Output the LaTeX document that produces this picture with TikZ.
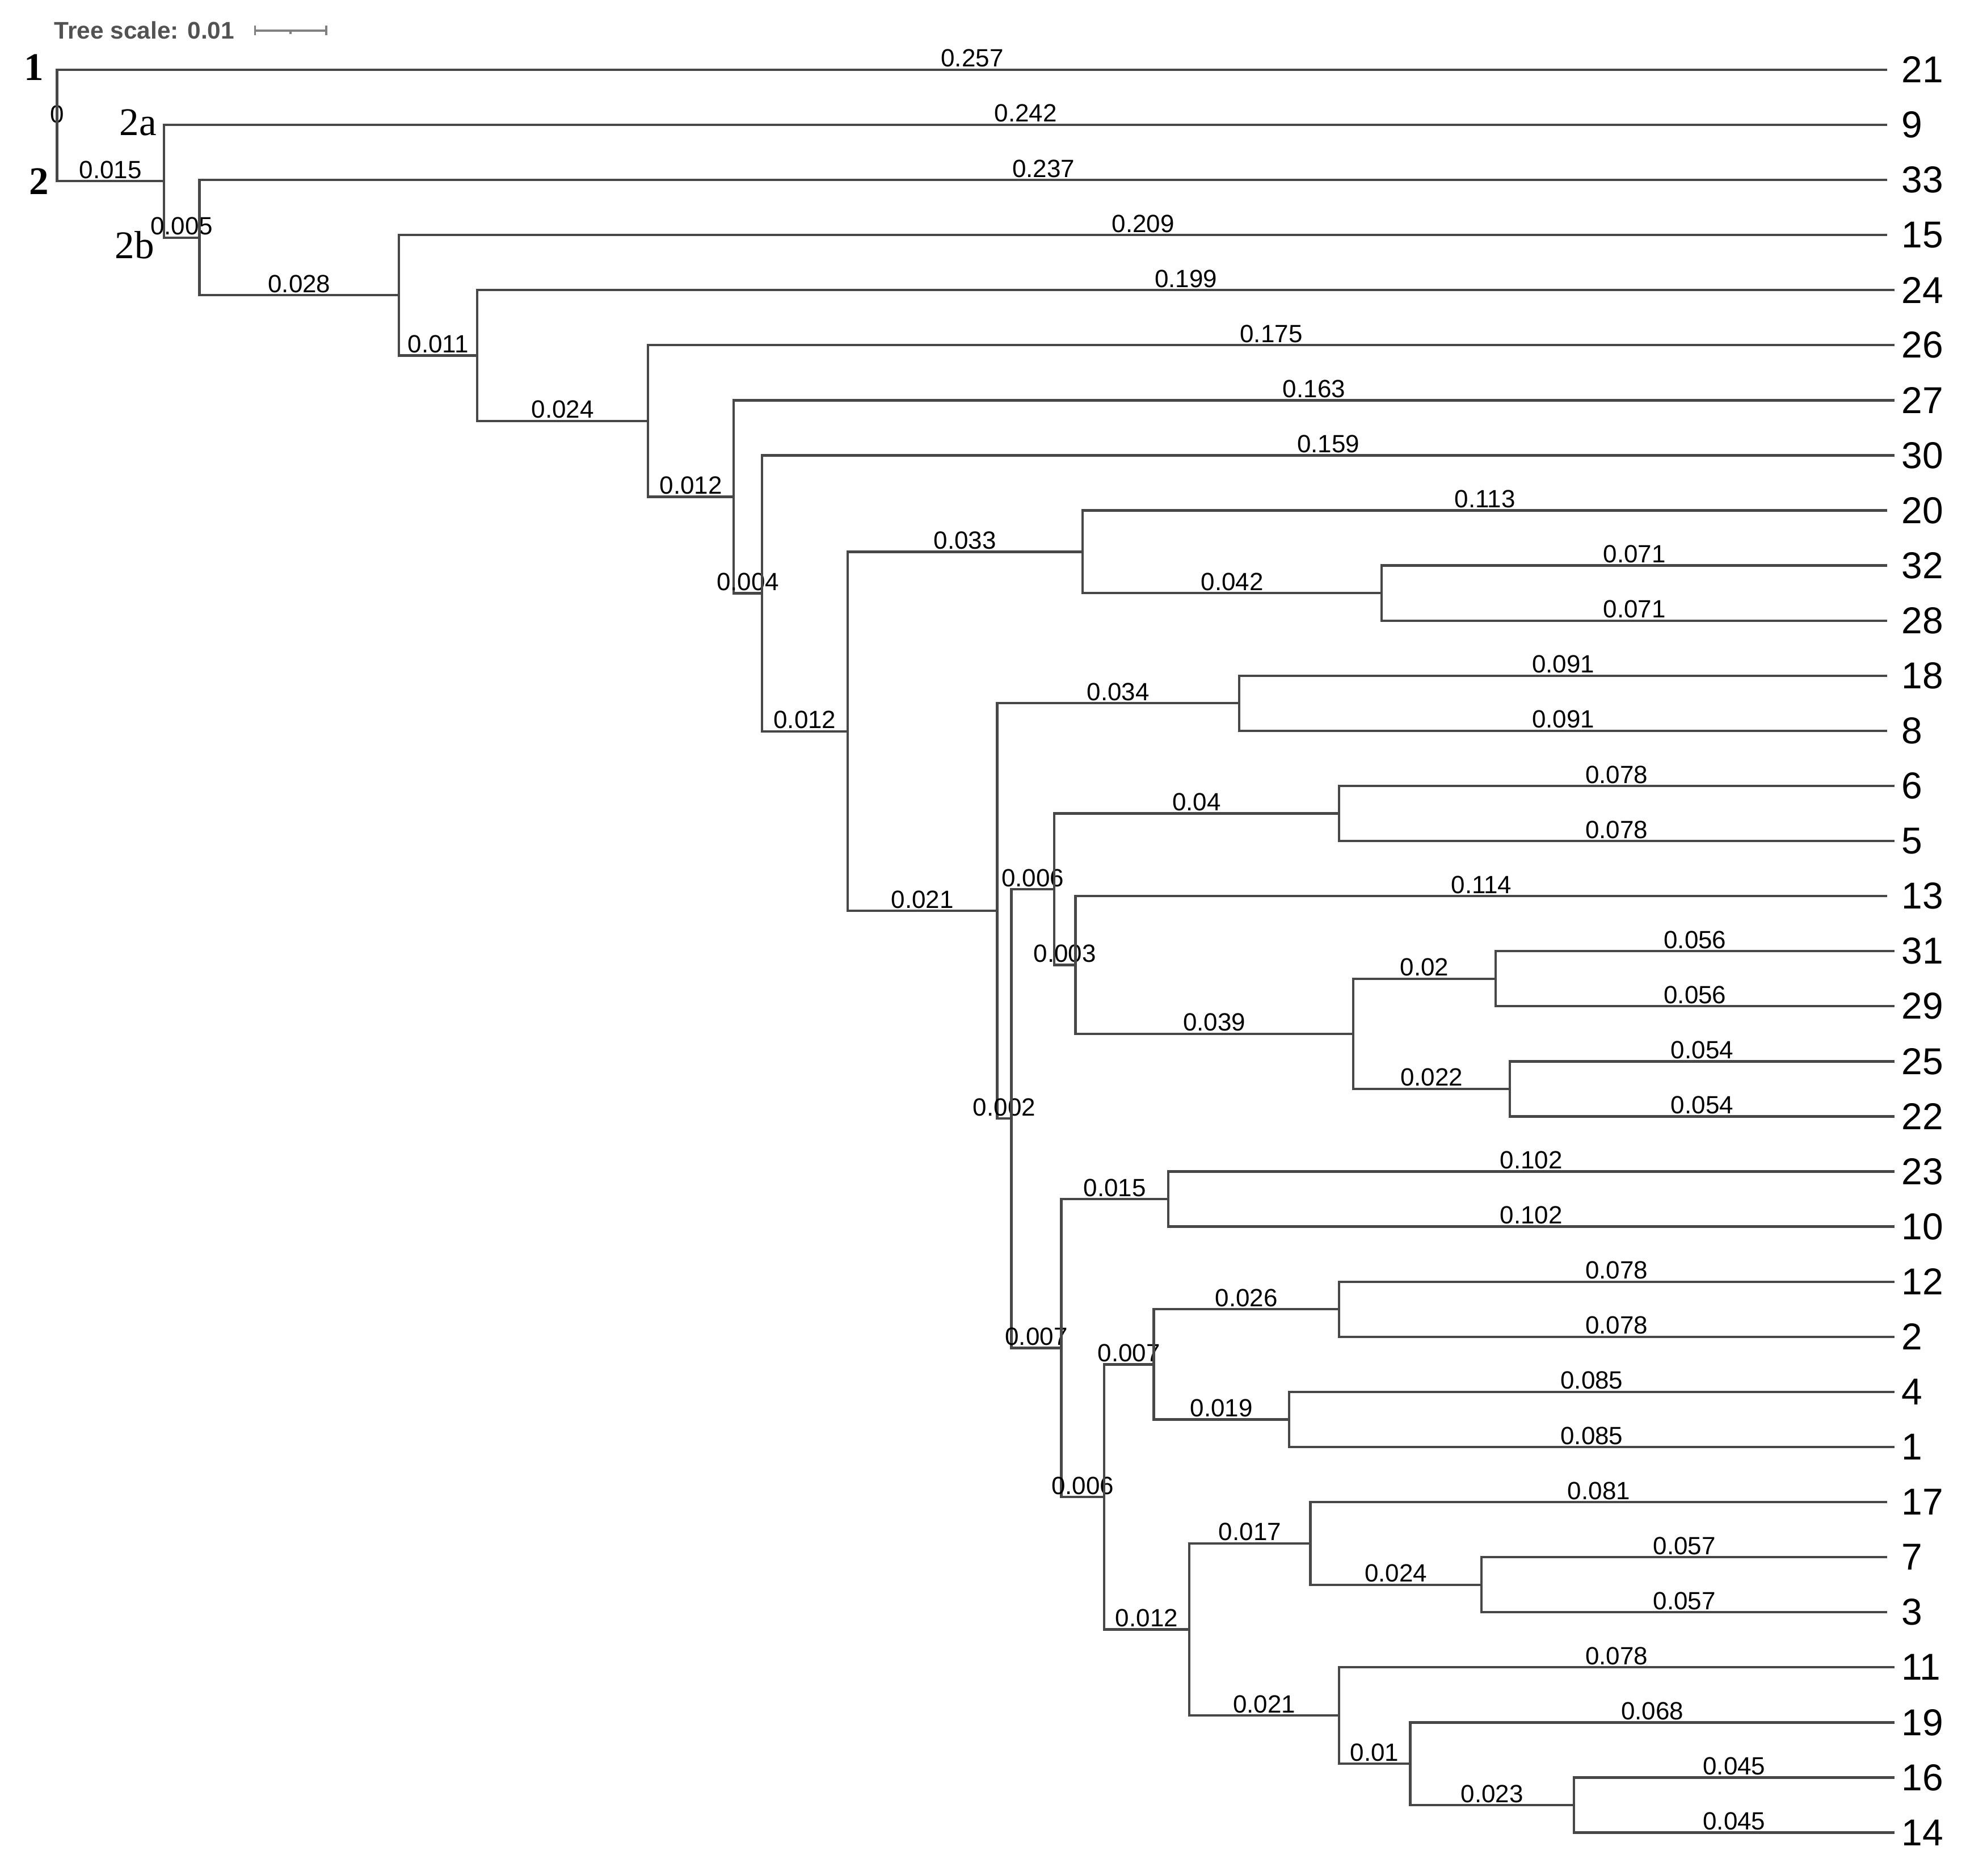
\documentclass[tikz,border=0pt]{standalone}
\usepackage{fontspec}
\setmainfont{Liberation Sans}
\newfontfamily\cladefont{Liberation Serif}
\usetikzlibrary{arrows,positioning}

\begin{document}
\begin{tikzpicture}[x=56.2cm, y=0.4347cm]
        \tikzstyle{branch}=[draw=black!72, line width=0.55pt]
        \tikzstyle{blen}=[font=\fontsize{5.6}{6}\selectfont, anchor=south, inner sep=0.3pt]
        \tikzstyle{leaf}=[font=\fontsize{8.4}{9}\selectfont, anchor=west, inner sep=0pt]
        \tikzstyle{clade}=[font=\cladefont\fontsize{8.8}{9}\selectfont, inner sep=0pt]
        \tikzstyle{scalebar}=[draw=black!50, line width=0.5pt]

        \useasboundingbox (-0.008007,1.2652) rectangle (0.271,-32.781);

        % tree scale
        \node[font=\bfseries\fontsize{5.4}{6}\selectfont, text=black!68, anchor=west, inner sep=0pt] (scl) at (-0.0005,0.713) {Tree scale: 0.01};
        \coordinate (sb1) at (0.0278,0.713);
        \coordinate (sb2) at (0.0378,0.713);
        \coordinate (sbm) at (0.0328,0.713);
        \draw[scalebar] (sb1) -- (sb2);
        \draw[scalebar] ([yshift=1.1pt]sb1) -- ([yshift=-1.1pt]sb1);
        \draw[scalebar] ([yshift=1.1pt]sb2) -- ([yshift=-1.1pt]sb2);
        \draw[scalebar] (sbm) -- ([yshift=-0.8pt]sbm);

        % inner nodes
        \coordinate (root) at (0,-1.01176);
        \coordinate (n2)   at (0.015,-2.02353);
        \coordinate (n2b)  at (0.020,-3.04706);
        \coordinate (n3)   at (0.048,-4.09406);
        \coordinate (n4)   at (0.059,-5.18811);
        \coordinate (n5)   at (0.083,-6.37622);
        \coordinate (n6)   at (0.095,-7.75244);
        \coordinate (n7)   at (0.099,-9.50488);
        \coordinate (n8)   at (0.111,-12.00977);
        \coordinate (n9)   at (0.144,-8.75);
        \coordinate (n11)  at (0.186,-9.5);
        \coordinate (n10)  at (0.132,-15.26953);
        \coordinate (n13)  at (0.166,-11.5);
        \coordinate (n14)  at (0.134,-19.03906);
        \coordinate (n15)  at (0.140,-14.875);
        \coordinate (n17)  at (0.180,-13.5);
        \coordinate (n18)  at (0.143,-16.25);
        \coordinate (n19)  at (0.182,-17.5);
        \coordinate (n20)  at (0.202,-16.5);
        \coordinate (n21)  at (0.204,-18.5);
        \coordinate (n16)  at (0.141,-23.20313);
        \coordinate (n22)  at (0.156,-20.5);
        \coordinate (n23)  at (0.147,-25.90625);
        \coordinate (n24)  at (0.154,-23.5);
        \coordinate (n25)  at (0.180,-22.5);
        \coordinate (n26)  at (0.173,-24.5);
        \coordinate (n27)  at (0.159,-28.3125);
        \coordinate (n28)  at (0.176,-26.75);
        \coordinate (n29)  at (0.200,-27.5);
        \coordinate (n30)  at (0.180,-29.875);
        \coordinate (n31)  at (0.190,-30.75);
        \coordinate (n32)  at (0.213,-31.5);

        % leaf ends
        \coordinate (e21) at (0.257,0);
        \coordinate (e9)  at (0.257,-1);
        \coordinate (e33) at (0.257,-2);
        \coordinate (e15) at (0.257,-3);
        \coordinate (e24) at (0.258,-4);
        \coordinate (e26) at (0.258,-5);
        \coordinate (e27) at (0.258,-6);
        \coordinate (e30) at (0.258,-7);
        \coordinate (e20) at (0.257,-8);
        \coordinate (e32) at (0.257,-9);
        \coordinate (e28) at (0.257,-10);
        \coordinate (e18) at (0.257,-11);
        \coordinate (e8)  at (0.257,-12);
        \coordinate (e6)  at (0.258,-13);
        \coordinate (e5)  at (0.258,-14);
        \coordinate (e13) at (0.257,-15);
        \coordinate (e31) at (0.258,-16);
        \coordinate (e29) at (0.258,-17);
        \coordinate (e25) at (0.258,-18);
        \coordinate (e22) at (0.258,-19);
        \coordinate (e23) at (0.258,-20);
        \coordinate (e10) at (0.258,-21);
        \coordinate (e12) at (0.258,-22);
        \coordinate (e2)  at (0.258,-23);
        \coordinate (e4)  at (0.258,-24);
        \coordinate (e1)  at (0.258,-25);
        \coordinate (e17) at (0.257,-26);
        \coordinate (e7)  at (0.257,-27);
        \coordinate (e3)  at (0.257,-28);
        \coordinate (e11) at (0.258,-29);
        \coordinate (e19) at (0.258,-30);
        \coordinate (e16) at (0.258,-31);
        \coordinate (e14) at (0.258,-32);

        % leaf labels
        \coordinate (col) at (0.2589,0);
        \node[leaf] (t21) at (col |- e21) {21};
        \node[leaf] (t9)  at (col |- e9)  {9};
        \node[leaf] (t33) at (col |- e33) {33};
        \node[leaf] (t15) at (col |- e15) {15};
        \node[leaf] (t24) at (col |- e24) {24};
        \node[leaf] (t26) at (col |- e26) {26};
        \node[leaf] (t27) at (col |- e27) {27};
        \node[leaf] (t30) at (col |- e30) {30};
        \node[leaf] (t20) at (col |- e20) {20};
        \node[leaf] (t32) at (col |- e32) {32};
        \node[leaf] (t28) at (col |- e28) {28};
        \node[leaf] (t18) at (col |- e18) {18};
        \node[leaf] (t8)  at (col |- e8)  {8};
        \node[leaf] (t6)  at (col |- e6)  {6};
        \node[leaf] (t5)  at (col |- e5)  {5};
        \node[leaf] (t13) at (col |- e13) {13};
        \node[leaf] (t31) at (col |- e31) {31};
        \node[leaf] (t29) at (col |- e29) {29};
        \node[leaf] (t25) at (col |- e25) {25};
        \node[leaf] (t22) at (col |- e22) {22};
        \node[leaf] (t23) at (col |- e23) {23};
        \node[leaf] (t10) at (col |- e10) {10};
        \node[leaf] (t12) at (col |- e12) {12};
        \node[leaf] (t2)  at (col |- e2)  {2};
        \node[leaf] (t4)  at (col |- e4)  {4};
        \node[leaf] (t1)  at (col |- e1)  {1};
        \node[leaf] (t17) at (col |- e17) {17};
        \node[leaf] (t7)  at (col |- e7)  {7};
        \node[leaf] (t3)  at (col |- e3)  {3};
        \node[leaf] (t11) at (col |- e11) {11};
        \node[leaf] (t19) at (col |- e19) {19};
        \node[leaf] (t16) at (col |- e16) {16};
        \node[leaf] (t14) at (col |- e14) {14};

        % clade labels
        \node[clade, yshift=0.02cm] (c1) [left=0.1cm of root |- e21] {\textbf{1}};
        \node[clade] (c2) [left=0.06cm of root |- n2] {\textbf{2}};
        \node[clade, yshift=0.02cm] (c2a) [left=0.05cm of n2 |- e9] {2a};
        \node[clade, yshift=-0.06cm] (c2b) [left=0.07cm of n2 |- n2b] {2b};

        % branches
        \node[blen] (bl0) at (root) {0};
        \draw[branch] (root) |- node[blen, pos=.75] {0.257} (e21);
        \draw[branch] (root) |- node[blen, pos=.75] {0.015} (n2);
        \draw[branch] (n2) |- node[blen, pos=.75] {0.242} (e9);
        \draw[branch] (n2) |- node[blen, pos=.75] {0.005} (n2b);
        \draw[branch] (n2b) |- node[blen, pos=.75] {0.237} (e33);
        \draw[branch] (n2b) |- node[blen, pos=.75] {0.028} (n3);
        \draw[branch] (n3) |- node[blen, pos=.75] {0.209} (e15);
        \draw[branch] (n3) |- node[blen, pos=.75] {0.011} (n4);
        \draw[branch] (n4) |- node[blen, pos=.75] {0.199} (e24);
        \draw[branch] (n4) |- node[blen, pos=.75] {0.024} (n5);
        \draw[branch] (n5) |- node[blen, pos=.75] {0.175} (e26);
        \draw[branch] (n5) |- node[blen, pos=.75] {0.012} (n6);
        \draw[branch] (n6) |- node[blen, pos=.75] {0.163} (e27);
        \draw[branch] (n6) |- node[blen, pos=.75] {0.004} (n7);
        \draw[branch] (n7) |- node[blen, pos=.75] {0.159} (e30);
        \draw[branch] (n7) |- node[blen, pos=.75] {0.012} (n8);
        \draw[branch] (n8) |- node[blen, pos=.75] {0.033} (n9);
        \draw[branch] (n8) |- node[blen, pos=.75] {0.021} (n10);
        \draw[branch] (n9) |- node[blen, pos=.75] {0.113} (e20);
        \draw[branch] (n9) |- node[blen, pos=.75] {0.042} (n11);
        \draw[branch] (n11) |- node[blen, pos=.75] {0.071} (e32);
        \draw[branch] (n11) |- node[blen, pos=.75] {0.071} (e28);
        \draw[branch] (n10) |- node[blen, pos=.75] {0.034} (n13);
        \draw[branch] (n10) |- node[blen, pos=.75] {0.002} (n14);
        \draw[branch] (n13) |- node[blen, pos=.75] {0.091} (e18);
        \draw[branch] (n13) |- node[blen, pos=.75] {0.091} (e8);
        \draw[branch] (n14) |- node[blen, pos=.75] {0.006} (n15);
        \draw[branch] (n14) |- node[blen, pos=.75] {0.007} (n16);
        \draw[branch] (n15) |- node[blen, pos=.75] {0.04} (n17);
        \draw[branch] (n15) |- node[blen, pos=.75] {0.003} (n18);
        \draw[branch] (n17) |- node[blen, pos=.75] {0.078} (e6);
        \draw[branch] (n17) |- node[blen, pos=.75] {0.078} (e5);
        \draw[branch] (n18) |- node[blen, pos=.75] {0.114} (e13);
        \draw[branch] (n18) |- node[blen, pos=.75] {0.039} (n19);
        \draw[branch] (n19) |- node[blen, pos=.75] {0.02} (n20);
        \draw[branch] (n19) |- node[blen, pos=.75] {0.022} (n21);
        \draw[branch] (n20) |- node[blen, pos=.75] {0.056} (e31);
        \draw[branch] (n20) |- node[blen, pos=.75] {0.056} (e29);
        \draw[branch] (n21) |- node[blen, pos=.75] {0.054} (e25);
        \draw[branch] (n21) |- node[blen, pos=.75] {0.054} (e22);
        \draw[branch] (n16) |- node[blen, pos=.75] {0.015} (n22);
        \draw[branch] (n16) |- node[blen, pos=.75] {0.006} (n23);
        \draw[branch] (n22) |- node[blen, pos=.75] {0.102} (e23);
        \draw[branch] (n22) |- node[blen, pos=.75] {0.102} (e10);
        \draw[branch] (n23) |- node[blen, pos=.75] {0.007} (n24);
        \draw[branch] (n23) |- node[blen, pos=.75] {0.012} (n27);
        \draw[branch] (n24) |- node[blen, pos=.75] {0.026} (n25);
        \draw[branch] (n24) |- node[blen, pos=.75] {0.019} (n26);
        \draw[branch] (n25) |- node[blen, pos=.75] {0.078} (e12);
        \draw[branch] (n25) |- node[blen, pos=.75] {0.078} (e2);
        \draw[branch] (n26) |- node[blen, pos=.75] {0.085} (e4);
        \draw[branch] (n26) |- node[blen, pos=.75] {0.085} (e1);
        \draw[branch] (n27) |- node[blen, pos=.75] {0.017} (n28);
        \draw[branch] (n27) |- node[blen, pos=.75] {0.021} (n30);
        \draw[branch] (n28) |- node[blen, pos=.75] {0.081} (e17);
        \draw[branch] (n28) |- node[blen, pos=.75] {0.024} (n29);
        \draw[branch] (n29) |- node[blen, pos=.75] {0.057} (e7);
        \draw[branch] (n29) |- node[blen, pos=.75] {0.057} (e3);
        \draw[branch] (n30) |- node[blen, pos=.75] {0.078} (e11);
        \draw[branch] (n30) |- node[blen, pos=.75] {0.01} (n31);
        \draw[branch] (n31) |- node[blen, pos=.75] {0.068} (e19);
        \draw[branch] (n31) |- node[blen, pos=.75] {0.023} (n32);
        \draw[branch] (n32) |- node[blen, pos=.75] {0.045} (e16);
        \draw[branch] (n32) |- node[blen, pos=.75] {0.045} (e14);

\end{tikzpicture}
\end{document}
